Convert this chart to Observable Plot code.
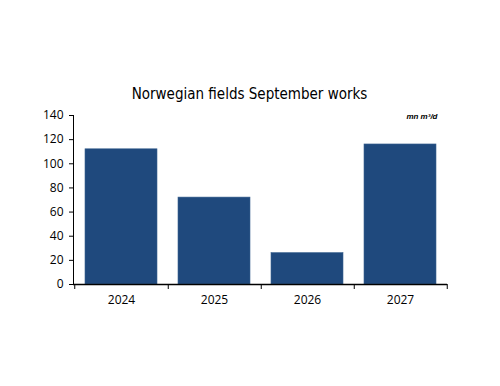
<!DOCTYPE html>
<html>
<head>
<meta charset="utf-8">
<script src="https://cdn.jsdelivr.net/npm/d3@7"></script>
<script src="https://cdn.jsdelivr.net/npm/@observablehq/plot@0.6"></script>
<style>
  html, body { margin: 0; padding: 0; background: #fff; }
</style>
</head>
<body>
<div id="chart"></div>
<script>
const years = ["2024", "2025", "2026", "2027"];
const values = [112, 72, 26, 116];
const yTicks = [0, 20, 40, 60, 80, 100, 120, 140];
const title = "Norwegian fields September works";
const unit = "mn m³/d";

const data = years.map((y, i) => ({year: y, value: values[i]}));

const W = 500, H = 386;
const mL = 73, mR = 53, mT = 115, mB = 102;
const step = (W - mL - mR) / years.length;

const chart = Plot.plot({
  width: W,
  height: H,
  marginLeft: mL,
  marginRight: mR,
  marginTop: mT,
  marginBottom: mB,
  style: {fontFamily: "'Open Sans', sans-serif", fontSize: "12px", color: "#000", background: "#fff"},
  x: {type: "band", domain: years, paddingInner: 0.23, paddingOuter: 0.115},
  y: {domain: [0, 140]},
  marks: [
    Plot.barY(data, {x: "year", y: "value", fill: "#1F497D", stroke: "#3a628f", strokeWidth: 0.6}),
    Plot.axisY({ticks: yTicks, tickSize: 4, tickPadding: 6, label: null, fontSize: 12, stroke: "#000"}),
    Plot.axisX({tickSize: 0, tickPadding: 11, label: null, fontSize: 12}),
    Plot.frame({anchor: "left", stroke: "#000", strokeWidth: 1}),
    Plot.ruleY([0], {stroke: "#000", strokeWidth: 1.5}),
    Plot.ruleX(years, {x: d => d, y1: 0, y2: 0, insetBottom: -5, dx: step / 2, stroke: "#000", strokeWidth: 1}),
    Plot.ruleX(years.slice(0, 1), {x: d => d, y1: 0, y2: 0, insetBottom: -5, dx: -step / 2, stroke: "#000", strokeWidth: 1}),
    Plot.text([title], {frameAnchor: "top", dx: -11, dy: -27, text: d => d, fontSize: 15, fontFamily: "'DejaVu Sans Condensed', 'DejaVu Sans', sans-serif", textAnchor: "middle", fill: "#000"}),
    Plot.text([unit], {frameAnchor: "top-right", dx: -10, dy: -2, text: d => d, fontSize: 8, fontWeight: "bold", fontStyle: "italic", fontFamily: "'Liberation Sans', sans-serif", fill: "#000"})
  ]
});
document.getElementById("chart").appendChild(chart);
</script>
</body>
</html>
